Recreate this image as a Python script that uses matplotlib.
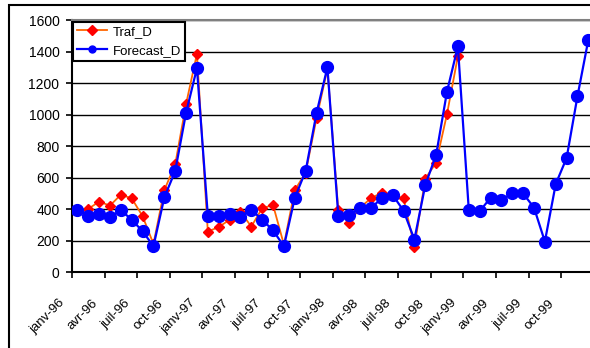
import matplotlib
matplotlib.use('Agg')
import matplotlib.pyplot as plt
from matplotlib.patches import Rectangle
from matplotlib.transforms import ScaledTranslation

plt.rcParams['font.family'] = ['Liberation Sans', 'DejaVu Sans']

# monthly values, janv-96 .. dec-99
traf_d = [390, 402, 448, 423, 492, 469, 356, 180, 521, 684, 1067, 1385,
          258, 287, 333, 385, 290, 406, 427, 175, 521, 632, 977, 1290,
          395, 314, 410, 469, 506, 490, 469, 160, 594, 695, 1004, 1370]
forecast_d = [395, 360, 370, 349, 395, 333, 261, 165, 475, 642, 1012, 1295,
              360, 360, 370, 350, 397, 333, 266, 165, 472, 643, 1010, 1300,
              360, 366, 406, 406, 471, 490, 391, 208, 553, 745, 1146, 1433,
              398, 387, 472, 460, 500, 500, 410, 195, 560, 725, 1117, 1475]
tick_labels = ['janv-96', 'avr-96', 'juil-96', 'oct-96',
               'janv-97', 'avr-97', 'juil-97', 'oct-97',
               'janv-98', 'avr-98', 'juil-98', 'oct-98',
               'janv-99', 'avr-99', 'juil-99', 'oct-99']

fig = plt.figure(figsize=(5.9, 3.48), dpi=100)
ax = fig.add_axes([71.9 / 590, 1 - 272.3 / 348, 521.9 / 590, 252.3 / 348])

x_traf = list(range(len(traf_d)))
x_fc = list(range(len(forecast_d)))

ax.plot(x_traf, traf_d, color='#FF6600', lw=1.3, marker='D', ms=4.8,
        mfc='#FF0000', mec='#FF0000', label='Traf_D', zorder=3)
ax.plot(x_fc, forecast_d, color='#0000FF', lw=1.6, marker='o', ms=8.5,
        mfc='#0000FF', mec='#0000FF', label='Forecast_D', zorder=4)

ax.set_xlim(-0.5, len(forecast_d) - 0.5)
ax.set_ylim(0, 1600)
ax.set_yticks(range(0, 1601, 200))
ax.yaxis.grid(True, color='black', lw=1.0)
ax.set_axisbelow(True)

# labels on categories, tick marks between categories
ax.set_xticks(range(0, 3 * len(tick_labels), 3))
ax.set_xticklabels(tick_labels, rotation=45, ha='right', va='center',
                   rotation_mode='anchor', fontsize=9.5)
ax.set_xticks([i - 0.5 for i in range(0, 3 * len(tick_labels), 3)], minor=True)
ax.tick_params(axis='x', which='major', length=0, pad=21)
ax.tick_params(axis='x', which='minor', length=4, width=1.2, direction='out')
ax.tick_params(axis='y', length=4, width=1.2, direction='out', labelsize=10, pad=5)
offset = ScaledTranslation(-14 / 100, 0, fig.dpi_scale_trans)
for lab in ax.get_xticklabels():
    lab.set_transform(lab.get_transform() + offset)

for s in ['left', 'bottom']:
    ax.spines[s].set_color('black')
    ax.spines[s].set_linewidth(1.5)
ax.spines['top'].set_color('#808080')
ax.spines['top'].set_linewidth(1.5)
ax.spines['right'].set_visible(False)

leg = ax.legend(loc='upper left', bbox_to_anchor=(0.002, 0.993), borderaxespad=0,
                fontsize=9.5, frameon=True, fancybox=False, edgecolor='black',
                framealpha=1, handlelength=2.3, labelspacing=0.5,
                borderpad=0.3, handletextpad=0.4)
leg.get_frame().set_linewidth(1.5)
leg.legend_handles[0].set_markersize(5)
leg.legend_handles[1].set_markersize(5)

# outer chart border
fig.patches.append(Rectangle((9 / 590, -0.5), 2.0, 0.5 + 1 - 5 / 348,
                             transform=fig.transFigure, fill=False,
                             edgecolor='black', lw=1.5))

fig.savefig('out.png', dpi=100)
